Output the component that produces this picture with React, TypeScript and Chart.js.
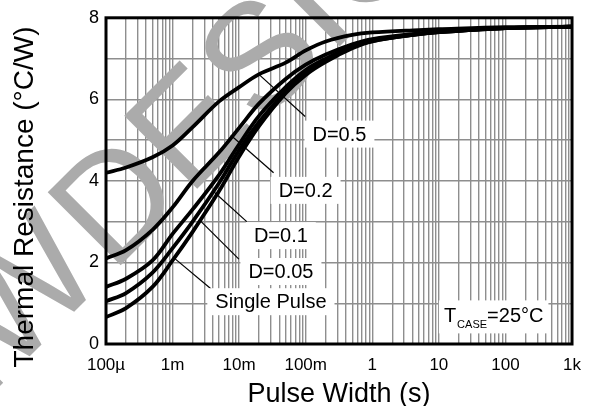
import { useEffect, useRef } from 'react';
import { Chart, registerables } from 'chart.js';

Chart.register(...registerables);

// Pulse width (s)
const pulseWidths = [1e-4, 2e-4, 5e-4, 1e-3, 2e-3, 5e-3, 1e-2, 2e-2, 5e-2, 0.1, 0.2, 0.5, 1, 5, 10, 100, 1000];
// Thermal resistance (°C/W)
const dutyHalf = [4.2, 4.33, 4.58, 4.87, 5.32, 5.95, 6.3, 6.62, 6.9, 7.2, 7.42, 7.58, 7.64, 7.7, 7.72, 7.77, 7.78];
const dutyFifth = [2.1, 2.3, 2.8, 3.35, 4.0, 4.7, 5.3, 5.9, 6.5, 6.85, 7.1, 7.35, 7.48, 7.62, 7.66, 7.75, 7.78];
const dutyTenth = [1.4, 1.6, 2.05, 2.7, 3.3, 4.15, 4.9, 5.6, 6.3, 6.72, 7.0, 7.3, 7.45, 7.6, 7.65, 7.75, 7.78];
const dutyTwentieth = [1.05, 1.25, 1.75, 2.35, 3.0, 3.95, 4.75, 5.45, 6.2, 6.65, 6.95, 7.28, 7.43, 7.6, 7.65, 7.75, 7.78];
const singlePulse = [0.66, 0.88, 1.4, 2.05, 2.75, 3.75, 4.6, 5.35, 6.15, 6.6, 6.92, 7.25, 7.42, 7.6, 7.65, 7.75, 7.78];

const xTickLabels = ['100µ', '1m', '10m', '100m', '1', '10', '100', '1k'];
const yTickLabels = ['0', '', '2', '', '4', '', '6', '', '8'];

// Curve labels: text, label centre (s, °C/W), leader start on curve, leader end
const labelTexts = ['D=0.5', 'D=0.2', 'D=0.1', 'D=0.05', 'Single Pulse'];
const labelX = [0.321, 0.0996, 0.0423, 0.0424, 0.030];
const labelY = [5.16, 3.78, 2.67, 1.79, 1.05];
const leaderFromX = [0.0196, 7.5e-3, 3.93e-3, 2.51e-3, 1.07e-3];
const leaderFromY = [6.62, 5.12, 3.77, 3.05, 2.1];
const leaderToX = [0.098, 0.0329, 0.013, 9.9e-3, 3.8e-3];
const leaderToY = [5.58, 4.2, 3.0, 2.08, 1.35];

const FONT = '"Liberation Sans", Arial, Helvetica, sans-serif';

export default function App() {
  const ref = useRef<HTMLCanvasElement | null>(null);

  useEffect(() => {
    const canvas = ref.current;
    if (!canvas) return;

    const mk = (vals: number[]) => pulseWidths.map((t, i) => ({ x: t, y: vals[i] }));
    const ds = (vals: number[]) => ({
      data: mk(vals),
      borderColor: '#000',
      borderWidth: 3.8,
      pointRadius: 0,
      fill: false,
      tension: 0.35,
    });

    const watermark = {
      id: 'watermark',
      beforeDatasetsDraw(chart: any) {
        const ctx = chart.ctx;
        ctx.save();
        ctx.fillStyle = '#ababab';
        ctx.font = `150px ${FONT}`;
        ctx.translate(112, 274);
        ctx.rotate(-Math.PI / 4);
        ctx.textBaseline = 'alphabetic';
        ctx.textAlign = 'right';
        ctx.fillText('NEW', -6, 0);
        ctx.textAlign = 'left';
        ctx.fillText('DESIGN', 0, 0);
        ctx.restore();
      },
    };

    const overlay = {
      id: 'overlay',
      afterDatasetsDraw(chart: any) {
        const ctx = chart.ctx;
        const xs = chart.scales.x;
        const ys = chart.scales.y;
        const a = chart.chartArea;
        ctx.save();
        ctx.strokeStyle = '#000';
        ctx.lineWidth = 1.2;
        for (let i = 0; i < labelTexts.length; i++) {
          ctx.beginPath();
          ctx.moveTo(xs.getPixelForValue(leaderFromX[i]), ys.getPixelForValue(leaderFromY[i]));
          ctx.lineTo(xs.getPixelForValue(leaderToX[i]), ys.getPixelForValue(leaderToY[i]));
          ctx.stroke();
        }
        ctx.font = `20px ${FONT}`;
        ctx.textBaseline = 'alphabetic';
        ctx.textAlign = 'center';
        for (let i = 0; i < labelTexts.length; i++) {
          const cx = xs.getPixelForValue(labelX[i]);
          const cy = ys.getPixelForValue(labelY[i]);
          const w = ctx.measureText(labelTexts[i]).width;
          ctx.fillStyle = '#fff';
          ctx.fillRect(cx - w / 2 - 8, cy - 13, w + 16, 27);
          ctx.fillStyle = '#000';
          ctx.fillText(labelTexts[i], cx, cy + 7.2);
        }
        const tx = xs.getPixelForValue(11.9);
        const ty = ys.getPixelForValue(0.53);
        ctx.textAlign = 'left';
        ctx.font = `20px ${FONT}`;
        const wT = ctx.measureText('T').width;
        ctx.font = `11px ${FONT}`;
        const wC = ctx.measureText('CASE').width;
        ctx.font = `20px ${FONT}`;
        const wE = ctx.measureText('=25°C').width;
        ctx.fillStyle = '#fff';
        ctx.fillRect(tx - 5, ty - 22, wT + wC + wE + 11, 33);
        ctx.fillStyle = '#000';
        ctx.fillText('T', tx, ty);
        ctx.font = `11px ${FONT}`;
        ctx.fillText('CASE', tx + wT + 1, ty + 6);
        ctx.font = `20px ${FONT}`;
        ctx.fillText('=25°C', tx + wT + wC + 1, ty);
        ctx.strokeStyle = '#000';
        ctx.lineWidth = 3;
        ctx.strokeRect(a.left, a.top, a.right - a.left, a.bottom - a.top);
        ctx.restore();
      },
      afterDraw(chart: any) {
        const ctx = chart.ctx;
        const a = chart.chartArea;
        ctx.save();
        ctx.fillStyle = '#000';
        ctx.textBaseline = 'alphabetic';
        ctx.textAlign = 'center';
        ctx.font = `27px ${FONT}`;
        ctx.fillText('Pulse Width (s)', (a.left + a.right) / 2, 402);
        ctx.translate(33, 197);
        ctx.rotate(-Math.PI / 2);
        ctx.font = `28px ${FONT}`;
        ctx.fillText('Thermal Resistance (°C/W)', 0, 0);
        ctx.restore();
      },
    };

    const chart = new Chart(canvas, {
      type: 'line',
      data: {
        datasets: [ds(dutyHalf), ds(dutyFifth), ds(dutyTenth), ds(dutyTwentieth), ds(singlePulse)],
      },
      options: {
        animation: false,
        responsive: false,
        devicePixelRatio: 1,
        layout: { padding: { left: 0, right: 16, top: 13, bottom: 0 } },
        plugins: { legend: { display: false }, tooltip: { enabled: false } },
        scales: {
          x: {
            type: 'logarithmic',
            min: 1e-4,
            max: 1e3,
            afterBuildTicks: (scale: any) => {
              const ticks: any[] = [];
              for (let e = -4; e <= 2; e++) {
                for (let s = 1; s <= 9; s++) ticks.push({ value: Number((s * Math.pow(10, e)).toPrecision(6)) });
              }
              ticks.push({ value: 1000 });
              scale.ticks = ticks;
            },
            afterFit: (scale: any) => {
              scale.height = 62;
            },
            grid: { color: '#8e8e8e', lineWidth: 1.4, drawTicks: false },
            border: { display: false },
            ticks: {
              autoSkip: false,
              maxRotation: 0,
              minRotation: 0,
              padding: 11,
              color: '#000',
              font: { family: FONT, size: 17 },
              callback: (v: any) => {
                const e = Math.log10(Number(v));
                const r = Math.round(e);
                return Math.abs(e - r) < 1e-6 ? xTickLabels[r + 4] : '';
              },
            },
          },
          y: {
            type: 'linear',
            min: 0,
            max: 8,
            afterFit: (scale: any) => {
              scale.width = 106;
            },
            grid: { color: '#8e8e8e', lineWidth: 1.4, drawTicks: false },
            border: { display: false },
            ticks: {
              stepSize: 1,
              padding: 7,
              color: '#000',
              font: { family: FONT, size: 18 },
              callback: (v: any) => yTickLabels[Math.round(Number(v))] ?? '',
            },
          },
        },
      },
      plugins: [watermark, overlay],
    });

    return () => chart.destroy();
  }, []);

  return (
    <div style={{ position: 'absolute', left: 0, top: 0, width: 592, height: 406, background: '#fff' }}>
      <canvas ref={ref} width={592} height={406} style={{ width: 592, height: 406, display: 'block' }} />
    </div>
  );
}
